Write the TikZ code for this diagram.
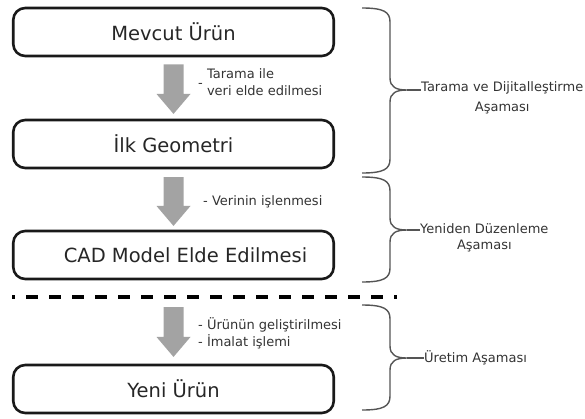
\documentclass[tikz,border=0pt]{standalone}
\usepackage{fontspec}
\setmainfont{DejaVu Sans}
\usetikzlibrary{calc}
\definecolor{arrowgray}{HTML}{A3A3A3}
\definecolor{bracegray}{HTML}{555555}
\definecolor{labelgray}{HTML}{333333}
\newcommand\blockarrow[2]{%
  \fill[arrowgray] ($(#1)+(-10,0)$) -- ($(#1)+(10,0)$) -- ($(#2)+(10,-20)$)
    -- ($(#2)+(17,-20)$) -- (#2) -- ($(#2)+(-17,-20)$) -- ($(#2)+(-10,-20)$) -- cycle;}
\newcommand\stagebrace[4]{%
  \draw[bracestyle] (362,#1) .. controls (384,#1) and (390,{#1+4}) .. (390,{#1+14})
    -- (390,{#2-12}) .. controls (390,{#2-3}) and (396,#2) .. (407,#2)
    .. controls (396,#2) and (390,{#2+3}) .. (390,{#2+12})
    -- (390,{#3-14}) .. controls (390,{#3-4}) and (384,#3) .. (362,#3);
  \coordinate (#4) at (407,#2);}
\begin{document}
\begin{tikzpicture}[x=1pt,y=-1pt,
  box/.style={draw=black!90, line width=2.6pt, rounded corners=12pt,
    minimum width=320.5pt, minimum height=48pt, inner sep=0pt,
    text=black!85, font=\fontsize{19.5}{23}\selectfont},
  steplabel/.style={anchor=west, inner sep=0pt, text=labelgray,
    font=\fontsize{13}{17}\selectfont, align=left},
  stagelabel/.style={anchor=west, inner sep=0pt, text=labelgray, align=center},
  bracestyle/.style={draw=bracegray, line width=1.4pt},
  dashline/.style={line width=3.5pt, dash pattern=on 12pt off 11pt, dash phase=9pt}]
\useasboundingbox (0,0) rectangle (585,418);

% boxes
\node[box] (b1) at (173.5,32) {Mevcut Ürün};
\node[box] (b2) at (173.5,144) {İlk Geometri};
\node[box] (b3) at (173.5,255) {\hspace*{24pt}CAD Model Elde Edilmesi};
\node[box] (b4) at (173.5,389) {Yeni Ürün};

% dashed separator
\coordinate (dl) at (12,297);
\coordinate (dr) at (397,297);
\draw[dashline] (dl) -- (dr);

% block arrows
\coordinate (a1s) at ($(b1.south)+(0,7)$);
\coordinate (a1e) at ($(b2.north)+(0,-4.75)$);
\coordinate (a2s) at ($(b2.south)+(0,7.75)$);
\coordinate (a2e) at ($(b3.north)+(0,-3.75)$);
\coordinate (a3s) at ($(dl)!0.415!(dr)+(0,10)$);
\coordinate (a3e) at ($(b4.north)+(0,-6.75)$);
\coordinate (a3s) at (a3s -| b4.north);
\blockarrow{a1s}{a1e}
\blockarrow{a2s}{a2e}
\blockarrow{a3s}{a3e}

% step labels
\node[steplabel] (l1) at (198,84) {- \begin{tabular}{@{}l@{}}Tarama ile\\veri elde edilmesi\end{tabular}};
\node[steplabel] (l2) at (203,202) {- Verinin işlenmesi};
\node[steplabel] (l3) at (198,333.5) {- Ürünün geliştirilmesi\\- İmalat işlemi};

% braces
\stagebrace{8}{90}{173}{tip1}
\stagebrace{177}{230}{282}{tip2}
\stagebrace{305}{358}{410}{tip3}

% stage labels
\node[stagelabel, font=\fontsize{13}{20}\selectfont] (s1) at (421,98) {Tarama ve Dijitalleştirme\\Aşaması};
\node[stagelabel, font=\fontsize{13}{16}\selectfont] (s2) at (420,238) {Yeniden Düzenleme\\Aşaması};
\node[stagelabel, font=\fontsize{13}{16}\selectfont] (s3) at (424,358) {Üretim Aşaması};
\draw[bracestyle] (tip1) -- (tip1 -| s1.west);
\draw[bracestyle] (tip2) -- (tip2 -| s2.west);
\draw[bracestyle] (tip3) -- (s3.west);
\end{tikzpicture}
\end{document}
